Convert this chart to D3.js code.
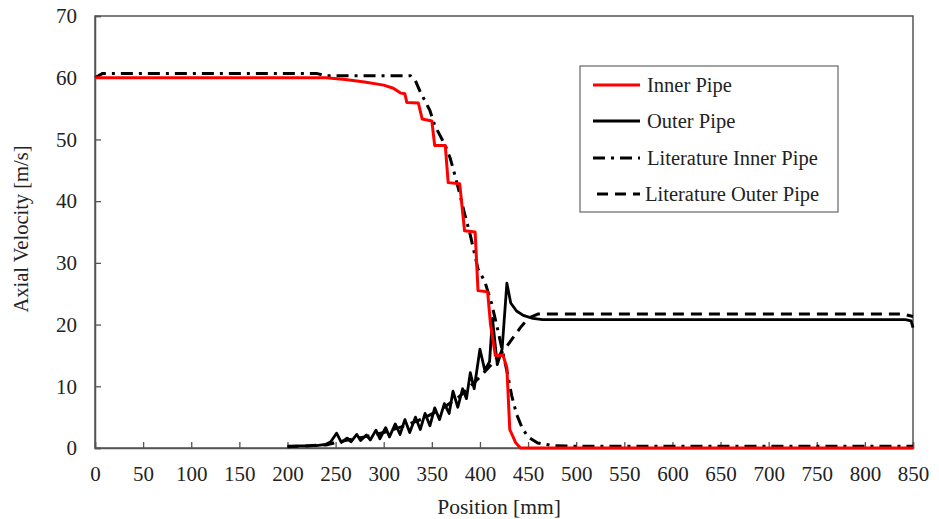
<!DOCTYPE html>
<html><head><meta charset="utf-8">
<script src="https://cdn.jsdelivr.net/npm/d3@7"></script>
<style>body{margin:0;background:#fff}svg{display:block}text{font-family:"Liberation Serif","Times New Roman",serif;fill:#222}</style>
</head><body><svg id="c" width="939" height="519"></svg>
<script>
const xTicks = d3.range(0, 851, 50);
const yTicks = d3.range(0, 71, 10);
const seriesNames = ["Inner Pipe", "Outer Pipe", "Literature Inner Pipe", "Literature Outer Pipe"];

const innerPipe = [[0,60],[240,60],[260,59.7],[280,59.3],[300,58.8],[310,58.3],[318,57.5],[322,57.4],[324,56],[336,55.9],[340,53.3],[350,53],[353,49],[364,49],[367,43],[379,42.8],[384,35.2],[395,35],[398,25.5],[408,25.3],[411,20],[416,15],[424,15],[428,13],[431,3],[437,0.9],[442,0],[850,0]];

const outerPipe = [[200,0.3],[230,0.4],[240,0.6],[245,1.0],[251,2.4],[256,0.9],[262,1.6],[266,1.0],[272,2.2],[276,1.2],[282,2.1],[286,1.3],[292,2.9],[296,1.5],[302,3.3],[306,1.8],[312,3.9],[317,2.2],[322,4.6],[327,2.5],[333,5.0],[338,3.0],[343,5.6],[348,3.6],[353,6.5],[358,4.6],[363,7.2],[368,5.6],[372,9.2],[377,6.6],[382,9.6],[386,8.0],[390,12.2],[394,9.6],[400,16.0],[405,12.6],[410,14.0],[413,21.0],[418,13.5],[423,16.0],[428,26.7],[432,23.5],[438,22.2],[445,21.5],[455,21.0],[465,20.8],[842,20.8],[848,20.6],[850,19.5]];

const litInnerPipe = [[0,60],[8,60.7],[230,60.7],[240,60.3],[328,60.3],[333,59.5],[338,57.7],[348,54.7],[353,52.3],[364,49],[369,47],[374,44.2],[378,41.8],[384,38],[390,34.5],[398,29],[405,27],[412,23.5],[418,19.5],[423,16],[428,12.5],[433,8.5],[438,5.5],[444,3.2],[450,1.8],[460,0.8],[475,0.4],[495,0.3],[850,0.3]];

const litOuterPipe = [[200,0.2],[240,0.5],[260,1.2],[280,1.8],[300,2.5],[320,3.5],[340,4.7],[360,6.3],[380,8.5],[400,11.5],[410,13.2],[420,15],[428,16.5],[435,18],[442,19.5],[450,21],[460,21.7],[840,21.7],[850,21.3]];

const svg = d3.select("#c");
const L = 95, R = 913, T = 16, B = 448;
const x = d3.scaleLinear().domain([0, 850]).range([L, R]);
const y = d3.scaleLinear().domain([0, 70]).range([B, T]);
const axisColor = "#555";

// frame
svg.append("rect").attr("x", L).attr("y", T).attr("width", R - L).attr("height", B - T)
  .attr("fill", "none").attr("stroke", axisColor).attr("stroke-width", 1.5);

// axes
const gx = svg.append("g").attr("transform", `translate(0,${B})`)
  .call(d3.axisBottom(x).tickValues(xTicks).tickSize(-6).tickPadding(18).tickFormat(d3.format("d")));
const gy = svg.append("g").attr("transform", `translate(${L},0)`)
  .call(d3.axisLeft(y).tickValues(yTicks).tickSize(-6).tickPadding(18).tickFormat(d3.format("d")));
[gx, gy].forEach(g => {
  g.select(".domain").attr("stroke", axisColor).attr("stroke-width", 1.5);
  g.selectAll(".tick line").attr("stroke", axisColor).attr("stroke-width", 1.3);
  g.selectAll(".tick text").attr("font-size", 21).attr("fill", "#222")
    .style("font-family", '"Liberation Serif","Times New Roman",serif');
});

// titles
svg.append("text").attr("x", (L + R) / 2 - 5).attr("y", 514).attr("text-anchor", "middle")
  .attr("font-size", 21.5).text("Position [mm]");
svg.append("text").attr("transform", "translate(28,229) rotate(-90)").attr("text-anchor", "middle")
  .attr("font-size", 20.5).text("Axial Velocity [m/s]");

const line = d3.line().x(d => x(d[0])).y(d => y(d[1]));
const styles = [
  {data: innerPipe, color: "#ff0000", w: 3, dash: null},
  {data: outerPipe, color: "#000", w: 2.8, dash: null},
  {data: litInnerPipe, color: "#000", w: 3, dash: "12,6,3,6"},
  {data: litOuterPipe, color: "#000", w: 3, dash: "11,7"}
];
const drawOrder = [3, 2, 1, 0];
drawOrder.forEach(i => {
  const s = styles[i];
  svg.append("path").datum(s.data).attr("d", line).attr("fill", "none")
    .attr("stroke", s.color).attr("stroke-width", s.w)
    .attr("stroke-linejoin", "round")
    .attr("stroke-dasharray", s.dash);
});

// legend
const lg = svg.append("g");
lg.append("rect").attr("x", 580).attr("y", 66).attr("width", 258).attr("height", 146)
  .attr("fill", "#fff").attr("stroke", "#666").attr("stroke-width", 1.2);
const rowsY = [85, 121, 158, 194];
seriesNames.forEach((name, i) => {
  const s = styles[i];
  const x0 = i === 3 ? 597 : 593;
  lg.append("line").attr("x1", x0).attr("x2", 640).attr("y1", rowsY[i]).attr("y2", rowsY[i])
    .attr("stroke", s.color).attr("stroke-width", s.w).attr("stroke-dasharray", s.dash);
  lg.append("text").attr("x", i === 3 ? 645 : 647).attr("y", rowsY[i] + 7)
    .attr("font-size", 20.5).attr("fill", "#111").text(name);
});
</script></body></html>
